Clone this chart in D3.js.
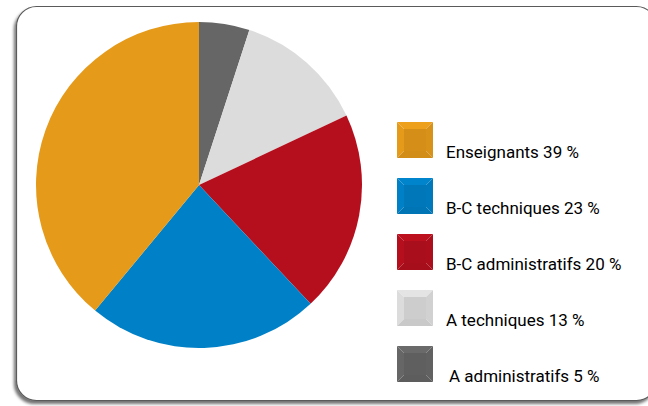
<!DOCTYPE html>
<html>
<head>
<meta charset="utf-8">
<script src="https://cdn.jsdelivr.net/npm/d3@7"></script>
<style>
  html, body { margin: 0; padding: 0; background: #ffffff; }
  svg { display: block; }
</style>
</head>
<body>
<svg id="chart" width="648" height="406"></svg>
<script>
// Staff breakdown by category (percent)
const categories = ["A administratifs", "A techniques", "B-C administratifs", "B-C techniques", "Enseignants"];
const values = [5, 13, 20, 23, 39];
const colors = ["#666666", "#dcdcdc", "#b50f1e", "#0080c6", "#e59a1a"];
// Legend order (top to bottom)
const legendOrder = ["Enseignants", "B-C techniques", "B-C administratifs", "A techniques", "A administratifs"];

const svg = d3.select("#chart");

// Drop shadow for the frame
const defs = svg.append("defs");
const f = defs.append("filter").attr("id", "frameShadow")
  .attr("x", "-5%").attr("y", "-5%").attr("width", "110%").attr("height", "115%");
f.append("feDropShadow").attr("dx", -2).attr("dy", 3).attr("stdDeviation", 1.6)
  .attr("flood-color", "#000").attr("flood-opacity", 0.55);

// Rounded frame
svg.append("rect")
  .attr("x", 16.5).attr("y", 6.5)
  .attr("width", 640).attr("height", 394)
  .attr("rx", 20).attr("ry", 20)
  .attr("fill", "#ffffff")
  .attr("stroke", "#5a5a5a").attr("stroke-width", 1.2)
  .attr("filter", "url(#frameShadow)");

// Pie
const color = d3.scaleOrdinal().domain(categories).range(colors);
const pie = d3.pie().sort(null).value(d => d.value);
const data = categories.map((c, i) => ({ name: c, value: values[i] }));
const arc = d3.arc().innerRadius(0).outerRadius(163);

const g = svg.append("g").attr("transform", "translate(199,185)");
g.selectAll("path")
  .data(pie(data))
  .join("path")
  .attr("d", arc)
  .attr("fill", d => color(d.data.name));

// Legend with bevelled swatches
const y = d3.scalePoint().domain(legendOrder).range([122, 346]);
const size = 36, inset = 7;
const lg = svg.append("g");

legendOrder.forEach(name => {
  const i = categories.indexOf(name);
  const base = d3.color(color(name));
  const x0 = 397, y0 = y(name);
  const item = lg.append("g").attr("transform", `translate(${x0},${y0})`);
  const s = size, k = inset;
  const faces = [
    { pts: [[0,0],[s,0],[s-k,k],[k,k]], c: base.brighter(0.1) },       // top
    { pts: [[0,0],[k,k],[k,s-k],[0,s]], c: base },                     // left
    { pts: [[s,0],[s,s],[s-k,s-k],[s-k,k]], c: base.darker(0.15) },    // right
    { pts: [[0,s],[k,s-k],[s-k,s-k],[s,s]], c: base.darker(0.25) }     // bottom
  ];
  faces.forEach(fc => {
    item.append("path")
      .attr("d", d3.line()(fc.pts) + "Z")
      .attr("fill", fc.c.formatHex());
  });
  item.append("rect")
    .attr("x", k).attr("y", k)
    .attr("width", s - 2 * k).attr("height", s - 2 * k)
    .attr("fill", base.darker(0.2).formatHex());

  lg.append("text")
    .attr("x", name === "A administratifs" ? 449 : 446)
    .attr("y", y0 + size)
    .attr("font-family", "Roboto, 'Liberation Sans', sans-serif")
    .attr("font-size", 17)
    .attr("fill", "#000000")
    .text(`${name} ${values[i]} %`);
});
</script>
</body>
</html>
